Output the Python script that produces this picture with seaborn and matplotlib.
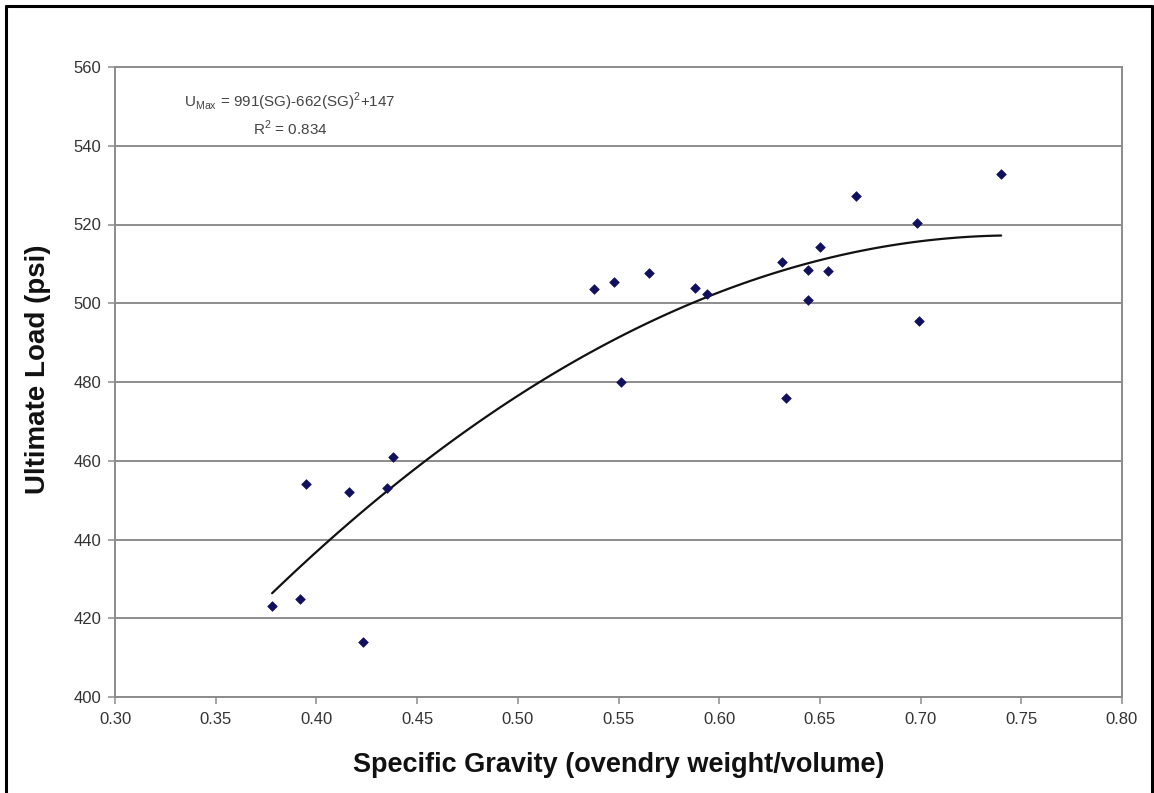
import numpy as np
import pandas as pd
import matplotlib
matplotlib.use("Agg")
import matplotlib.pyplot as plt
from matplotlib.lines import Line2D
import seaborn as sns

# Specific gravity (ovendry) and ultimate load (psi) for each specimen
specific_gravity = [0.378, 0.392, 0.395, 0.416, 0.423, 0.435, 0.438,
                    0.538, 0.548, 0.551, 0.565, 0.588, 0.594,
                    0.631, 0.633, 0.644, 0.644, 0.650, 0.654,
                    0.668, 0.698, 0.699, 0.740]
ultimate_load = [423.0, 425.0, 454.0, 452.0, 414.0, 453.0, 461.0,
                 503.6, 505.4, 480.0, 507.8, 504.0, 502.4,
                 510.5, 476.0, 508.4, 500.8, 514.3, 508.3,
                 527.2, 520.4, 495.6, 532.8]

x_ticks = [0.30, 0.35, 0.40, 0.45, 0.50, 0.55, 0.60, 0.65, 0.70, 0.75, 0.80]
y_ticks = [400, 420, 440, 460, 480, 500, 520, 540, 560]

df = pd.DataFrame({"sg": specific_gravity, "load": ultimate_load})

sns.set_theme(style="white")
plt.rcParams["font.family"] = ["Liberation Sans", "DejaVu Sans"]
plt.rcParams["mathtext.fontset"] = "custom"
plt.rcParams["mathtext.rm"] = "Liberation Sans"

W, H = 1154, 793
fig = plt.figure(figsize=(W / 100, H / 100), dpi=100)
ax = fig.add_axes([115 / W, 1 - 697 / H, (1122 - 115) / W, (697 - 67) / H])

grid_grey = "#8c8c8c"
ax.set_xlim(0.30, 0.80)
ax.set_ylim(400, 560)
ax.set_xticks(x_ticks)
ax.set_yticks(y_ticks)
ax.set_xticklabels([f"{t:.2f}" for t in x_ticks])
ax.set_yticklabels([str(t) for t in y_ticks])
ax.yaxis.grid(True, color=grid_grey, linewidth=1.4)
ax.xaxis.grid(False)
ax.set_axisbelow(True)
for side in ["left", "bottom", "right", "top"]:
    ax.spines[side].set_color(grid_grey)
    ax.spines[side].set_linewidth(1.4)
ax.tick_params(axis="both", which="major", direction="out", length=5,
               width=1.1, color=grid_grey, labelsize=12, labelcolor="#333333",
               left=True, bottom=True)
ax.tick_params(axis="x", pad=6)
ax.tick_params(axis="y", pad=5)

# Second-order polynomial trend line
sns.regplot(data=df, x="sg", y="load", order=2, ci=None, scatter=False,
            truncate=True, ax=ax,
            line_kws={"color": "#111111", "linewidth": 1.6})

sns.scatterplot(data=df, x="sg", y="load", ax=ax, marker="D", s=24,
                color="#10105e", edgecolor="#10105e", linewidth=0.5, zorder=4)

ax.set_xlabel("Specific Gravity (ovendry weight/volume)", fontsize=19.5,
              fontweight="bold", color="#111111", labelpad=18)
ax.set_ylabel("Ultimate Load (psi)", fontsize=20, fontweight="bold",
              color="#111111")
ax.yaxis.set_label_coords(-0.064, 0.52)

ax.text(0.387, 551.2,
        r"U$_{\mathregular{Max}}$ = 991(SG)-662(SG)$^{\mathregular{2}}$+147",
        fontsize=11, color="#444444", ha="center", va="center")
ax.text(0.387, 544.3, r"R$^{\mathregular{2}}$ = 0.834", fontsize=11,
        color="#444444", ha="center", va="center")

# Black frame around the figure
frame_kw = dict(color="black", linewidth=2.2, transform=fig.transFigure)
fig.add_artist(Line2D([5.5 / W, 5.5 / W], [0, 1 - 5.5 / H], **frame_kw))
fig.add_artist(Line2D([5.5 / W, 1 - 2 / W], [1 - 5.5 / H, 1 - 5.5 / H], **frame_kw))
fig.add_artist(Line2D([1 - 2 / W, 1 - 2 / W], [0, 1 - 5.5 / H], **frame_kw))

fig.savefig("out.png", dpi=100, facecolor="white")
